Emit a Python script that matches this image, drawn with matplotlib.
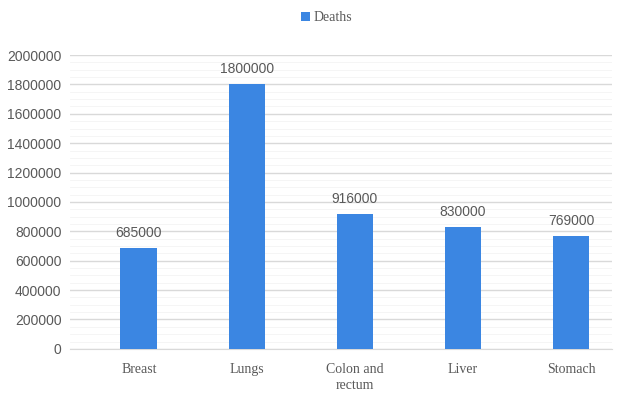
import matplotlib.pyplot as plt
from matplotlib.ticker import MultipleLocator
import numpy as np

categories = ["Breast", "Lungs", "Colon and\nrectum", "Liver", "Stomach"]
deaths = [685000, 1800000, 916000, 830000, 769000]
yticks = [0, 200000, 400000, 600000, 800000, 1000000, 1200000, 1400000,
          1600000, 1800000, 2000000]

bar_color = "#3b86e2"
text_color = "#595959"

fig = plt.figure(figsize=(6.17, 3.96), dpi=100)
ax = fig.add_axes([0.113, 0.119, 0.879, 0.742])

x = np.arange(len(categories))
bars = ax.bar(x, deaths, width=0.34, color=bar_color, label="Deaths", zorder=3)

for xi, v in zip(x, deaths):
    ax.annotate(str(v), xy=(xi, v), xytext=(0, 6), textcoords="offset points",
                ha="center", va="bottom", fontsize=10, color=text_color,
                family="Liberation Sans")

ax.set_xlim(-0.64, 4.38)
ax.set_ylim(0, 2000000)
ax.set_yticks(yticks)
ax.set_yticklabels([str(t) for t in yticks], fontsize=10, color=text_color,
                   family="Liberation Sans")
ax.yaxis.set_minor_locator(MultipleLocator(50000))
ax.set_xticks(x)
ax.set_xticklabels(categories, fontsize=10, color=text_color,
                   family="Liberation Serif", linespacing=1.3)

ax.grid(axis="y", which="major", color="#d9d9d9", linewidth=1.0, zorder=0)
ax.grid(axis="y", which="minor", color="#f4f4f4", linewidth=0.6, zorder=0)
ax.tick_params(axis="both", which="both", length=0)
ax.tick_params(axis="y", pad=6)
ax.tick_params(axis="x", pad=10)
for s in ["top", "right", "left"]:
    ax.spines[s].set_visible(False)
ax.spines["bottom"].set_color("#d9d9d9")

fig.legend(handles=[bars], labels=["Deaths"], loc="center",
           bbox_to_anchor=(0.53, 0.955), frameon=False,
           handlelength=0.6, handleheight=0.6, handletextpad=0.3,
           prop={"family": "Liberation Serif", "size": 10}, labelcolor=text_color)

fig.savefig("out.png", dpi=100)
